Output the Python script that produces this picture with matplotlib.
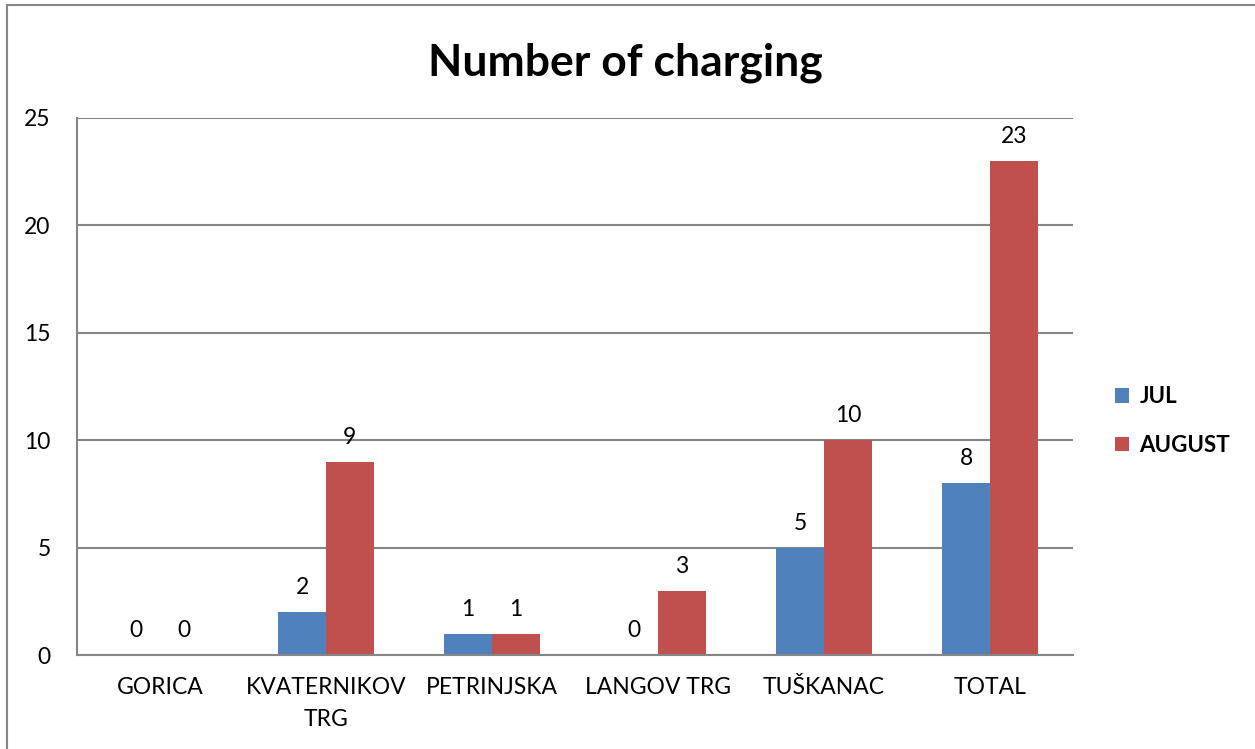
import numpy as np
import matplotlib
matplotlib.use("Agg")
from matplotlib import pyplot as plt
from matplotlib.patches import Rectangle

# chart data
categories = ["GORICA", "KVATERNIKOV\nTRG", "PETRINJSKA", "LANGOV TRG", "TUŠKANAC", "TOTAL"]
jul = [0, 2, 1, 0, 5, 8]
august = [0, 9, 1, 3, 10, 23]
series_names = ["JUL", "AUGUST"]
y_ticks = [0, 5, 10, 15, 20, 25]

blue = "#4F81BD"
red = "#C0504D"
grid_gray = "#868686"

plt.rcParams["font.family"] = ["Lato", "DejaVu Sans"]

fig = plt.figure(figsize=(12.55, 7.49), dpi=100)
ax = fig.add_axes([77 / 1255, 1 - 655 / 749, 996 / 1255, 537 / 749])

# outer chart border
fig.patches.append(Rectangle((7 / 1255, -0.1), 1.2, 1 - 5 / 749 + 0.1,
                             transform=fig.transFigure, fill=False,
                             edgecolor=grid_gray, linewidth=1.5))

x = np.arange(len(categories))
w = 0.287
bars_j = ax.bar(x - w / 2, jul, w, color=blue, label=series_names[0], zorder=3)
bars_a = ax.bar(x + w / 2, august, w, color=red, label=series_names[1], zorder=3)

for bars in (bars_j, bars_a):
    for b in bars:
        h = b.get_height()
        ax.annotate(str(int(h)), (b.get_x() + b.get_width() / 2, h),
                    xytext=(0, 10), textcoords="offset points",
                    ha="center", va="bottom", fontsize=16.5, zorder=4)

ax.set_xlim(-0.5, len(categories) - 0.5)
ax.set_ylim(0, 25)
ax.set_yticks(y_ticks)
ax.set_yticklabels([str(t) for t in y_ticks], fontsize=16.5)
ax.set_xticks(x)
ax.set_xticklabels(categories, fontsize=16.5, linespacing=1.65)
ax.tick_params(axis="both", length=0)
ax.tick_params(axis="y", pad=19)
ax.tick_params(axis="x", pad=16)

ax.yaxis.grid(True, color=grid_gray, linewidth=1.5, zorder=0)
ax.set_axisbelow(True)
for s in ("top", "right"):
    ax.spines[s].set_visible(False)
for s in ("left", "bottom"):
    ax.spines[s].set_color(grid_gray)
    ax.spines[s].set_linewidth(1.5)
    ax.spines[s].set_zorder(5)

fig.text(625 / 1255, 1 - 63 / 749, "Number of charging", ha="center", va="center",
         fontsize=32, fontweight="bold")

leg = ax.legend(loc="center left", bbox_to_anchor=(1.022, 0.436), frameon=False,
                prop={"size": 16, "weight": "bold"}, handlelength=0.65,
                handleheight=0.65, handletextpad=0.45, labelspacing=1.25)

fig.savefig("out.png", dpi=100)
